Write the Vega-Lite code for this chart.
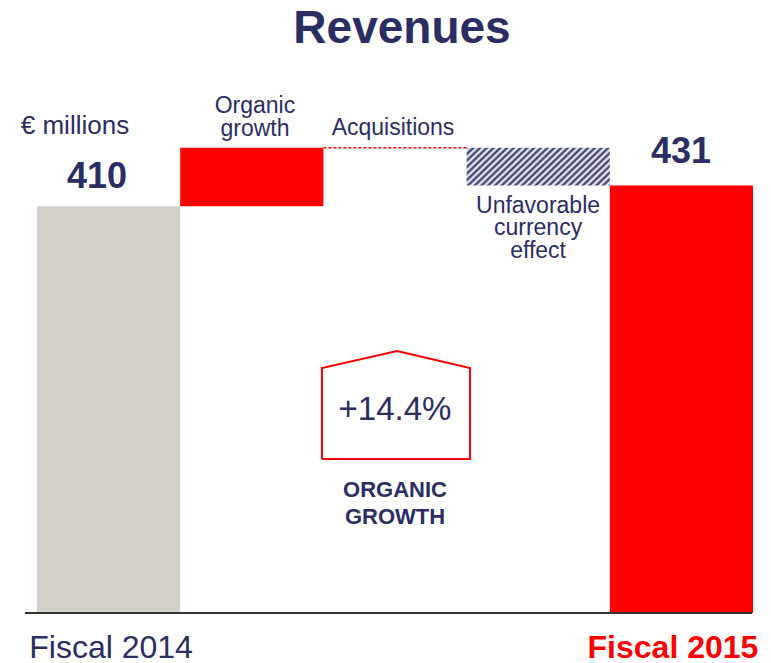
{
  "$schema": "https://vega.github.io/schema/vega-lite/v6.json",
  "width": 716,
  "height": 543,
  "autosize": {"type": "none"},
  "padding": {"left": 37, "top": 70, "right": 18, "bottom": 50},
  "background": "white",
  "config": {"view": {"stroke": null}, "font": "Liberation Sans"},
  "title": {"text": "Revenues", "fontSize": 46, "font": "Liberation Sans", "fontWeight": "bold", "color": "#2b2d63", "anchor": "middle", "offset": 17, "dx": 7, "frame": "group"},
  "datasets": {
    "bars": [
      {"item": "Fiscal 2014", "start": 0, "end": 1, "low": 0, "high": 410, "kind": "grey"},
      {"item": "Organic growth", "start": 1, "end": 2, "low": 410, "high": 469, "kind": "red"},
      {"item": "Fiscal 2015", "start": 4, "end": 5, "low": 0, "high": 431, "kind": "red"}
    ],
    "currency": [
      {"item": "Unfavorable currency effect", "start": 3, "end": 4, "low": 431, "high": 469}
    ],
    "acq": [{"item": "Acquisitions", "start": 2, "end": 3, "value": 469}],
    "base": [{"start": -0.084, "end": 4.993, "value": 0}],
    "house": [
      {"ord": 1, "px": 1.99, "py": 155.2},
      {"ord": 2, "px": 1.99, "py": 247.0},
      {"ord": 3, "px": 2.514, "py": 264.1},
      {"ord": 4, "px": 3.024, "py": 247.0},
      {"ord": 5, "px": 3.024, "py": 155.2},
      {"ord": 6, "px": 1.99, "py": 155.2}
    ],
    "millions": [{"label": "€ millions", "lx": 0.265, "ly": 491}],
    "smallLabels": [
      {"label": "Organic\ngrowth", "lx": 1.522, "ly": 511},
      {"label": "Acquisitions", "lx": 2.486, "ly": 489},
      {"label": "Unfavorable\ncurrency\neffect", "lx": 3.499, "ly": 410.3}
    ],
    "valueLabels": [
      {"label": "410", "lx": 0.419, "ly": 439.5},
      {"label": "431", "lx": 4.497, "ly": 464.7}
    ],
    "pct": [{"label": "+14.4%", "lx": 2.5, "ly": 204.6}],
    "og": [{"label": "ORGANIC\nGROWTH", "lx": 2.5, "ly": 124}],
    "fy14": [{"label": "Fiscal 2014", "lx": 0.517, "ly": -35.3}],
    "fy15": [{"label": "Fiscal 2015", "lx": 4.441, "ly": -35.3}]
  },
  "layer": [
    {
      "data": {"name": "bars"},
      "mark": {"type": "bar"},
      "encoding": {
        "x": {"field": "start", "type": "quantitative", "scale": {"domain": [0, 5], "nice": false, "zero": false}, "axis": null},
        "x2": {"field": "end"},
        "y": {"field": "low", "type": "quantitative", "scale": {"domain": [0, 547.4], "nice": false}, "axis": null},
        "y2": {"field": "high"},
        "color": {"field": "kind", "type": "nominal", "scale": {"domain": ["grey", "red"], "range": ["#d3d0ca", "#ff0000"]}, "legend": null}
      }
    },
    {
      "data": {"name": "currency"},
      "mark": {
        "type": "bar",
        "fill": {
          "gradient": "linear", "x1": 0, "y1": 0, "x2": 1.185, "y2": 0.3235,
          "stops": [
            {"offset": 0, "color": "#2b2d63"}, {"offset": 0.0185, "color": "#ffffff"},
            {"offset": 0.037, "color": "#2b2d63"}, {"offset": 0.0556, "color": "#ffffff"},
            {"offset": 0.0741, "color": "#2b2d63"}, {"offset": 0.0926, "color": "#ffffff"},
            {"offset": 0.1111, "color": "#2b2d63"}, {"offset": 0.1296, "color": "#ffffff"},
            {"offset": 0.1481, "color": "#2b2d63"}, {"offset": 0.1667, "color": "#ffffff"},
            {"offset": 0.1852, "color": "#2b2d63"}, {"offset": 0.2037, "color": "#ffffff"},
            {"offset": 0.2222, "color": "#2b2d63"}, {"offset": 0.2407, "color": "#ffffff"},
            {"offset": 0.2593, "color": "#2b2d63"}, {"offset": 0.2778, "color": "#ffffff"},
            {"offset": 0.2963, "color": "#2b2d63"}, {"offset": 0.3148, "color": "#ffffff"},
            {"offset": 0.3333, "color": "#2b2d63"}, {"offset": 0.3519, "color": "#ffffff"},
            {"offset": 0.3704, "color": "#2b2d63"}, {"offset": 0.3889, "color": "#ffffff"},
            {"offset": 0.4074, "color": "#2b2d63"}, {"offset": 0.4259, "color": "#ffffff"},
            {"offset": 0.4444, "color": "#2b2d63"}, {"offset": 0.463, "color": "#ffffff"},
            {"offset": 0.4815, "color": "#2b2d63"}, {"offset": 0.5, "color": "#ffffff"},
            {"offset": 0.5185, "color": "#2b2d63"}, {"offset": 0.537, "color": "#ffffff"},
            {"offset": 0.5556, "color": "#2b2d63"}, {"offset": 0.5741, "color": "#ffffff"},
            {"offset": 0.5926, "color": "#2b2d63"}, {"offset": 0.6111, "color": "#ffffff"},
            {"offset": 0.6296, "color": "#2b2d63"}, {"offset": 0.6481, "color": "#ffffff"},
            {"offset": 0.6667, "color": "#2b2d63"}, {"offset": 0.6852, "color": "#ffffff"},
            {"offset": 0.7037, "color": "#2b2d63"}, {"offset": 0.7222, "color": "#ffffff"},
            {"offset": 0.7407, "color": "#2b2d63"}, {"offset": 0.7593, "color": "#ffffff"},
            {"offset": 0.7778, "color": "#2b2d63"}, {"offset": 0.7963, "color": "#ffffff"},
            {"offset": 0.8148, "color": "#2b2d63"}, {"offset": 0.8333, "color": "#ffffff"},
            {"offset": 0.8519, "color": "#2b2d63"}, {"offset": 0.8704, "color": "#ffffff"},
            {"offset": 0.8889, "color": "#2b2d63"}, {"offset": 0.9074, "color": "#ffffff"},
            {"offset": 0.9259, "color": "#2b2d63"}, {"offset": 0.9444, "color": "#ffffff"},
            {"offset": 0.963, "color": "#2b2d63"}, {"offset": 0.9815, "color": "#ffffff"},
            {"offset": 1, "color": "#2b2d63"}
          ]
        }
      },
      "encoding": {
        "x": {"field": "start", "type": "quantitative"},
        "x2": {"field": "end"},
        "y": {"field": "low", "type": "quantitative"},
        "y2": {"field": "high"}
      }
    },
    {
      "data": {"name": "acq"},
      "mark": {"type": "rule", "color": "#ff0000", "strokeWidth": 1.5, "strokeDash": [3, 2]},
      "encoding": {
        "x": {"field": "start", "type": "quantitative"},
        "x2": {"field": "end"},
        "y": {"field": "value", "type": "quantitative"}
      }
    },
    {
      "data": {"name": "base"},
      "mark": {"type": "rule", "color": "#333333", "strokeWidth": 2},
      "encoding": {
        "x": {"field": "start", "type": "quantitative"},
        "x2": {"field": "end"},
        "y": {"field": "value", "type": "quantitative"}
      }
    },
    {
      "data": {"name": "house"},
      "mark": {"type": "line", "color": "#ff0000", "strokeWidth": 2, "strokeJoin": "miter"},
      "encoding": {
        "x": {"field": "px", "type": "quantitative"},
        "y": {"field": "py", "type": "quantitative"},
        "order": {"field": "ord", "type": "quantitative"}
      }
    },
    {
      "data": {"name": "millions"},
      "mark": {"type": "text", "fontSize": 26, "color": "#2b2d63", "align": "center", "baseline": "middle"},
      "encoding": {
        "x": {"field": "lx", "type": "quantitative"},
        "y": {"field": "ly", "type": "quantitative"},
        "text": {"field": "label"}
      }
    },
    {
      "data": {"name": "smallLabels"},
      "mark": {"type": "text", "fontSize": 23, "color": "#2b2d63", "lineBreak": "\n", "lineHeight": 22.5, "align": "center", "baseline": "middle"},
      "encoding": {
        "x": {"field": "lx", "type": "quantitative"},
        "y": {"field": "ly", "type": "quantitative"},
        "text": {"field": "label"}
      }
    },
    {
      "data": {"name": "valueLabels"},
      "mark": {"type": "text", "fontSize": 36, "fontWeight": "bold", "color": "#2b2d63", "align": "center", "baseline": "middle"},
      "encoding": {
        "x": {"field": "lx", "type": "quantitative"},
        "y": {"field": "ly", "type": "quantitative"},
        "text": {"field": "label"}
      }
    },
    {
      "data": {"name": "pct"},
      "mark": {"type": "text", "fontSize": 33, "color": "#2b2d63", "align": "center", "baseline": "middle"},
      "encoding": {
        "x": {"field": "lx", "type": "quantitative"},
        "y": {"field": "ly", "type": "quantitative"},
        "text": {"field": "label"}
      }
    },
    {
      "data": {"name": "og"},
      "mark": {"type": "text", "fontSize": 22, "fontWeight": "bold", "color": "#2b2d63", "lineBreak": "\n", "lineHeight": 27, "align": "center", "baseline": "middle"},
      "encoding": {
        "x": {"field": "lx", "type": "quantitative"},
        "y": {"field": "ly", "type": "quantitative"},
        "text": {"field": "label"}
      }
    },
    {
      "data": {"name": "fy14"},
      "mark": {"type": "text", "fontSize": 32, "color": "#2b2d63", "align": "center", "baseline": "middle"},
      "encoding": {
        "x": {"field": "lx", "type": "quantitative"},
        "y": {"field": "ly", "type": "quantitative"},
        "text": {"field": "label"}
      }
    },
    {
      "data": {"name": "fy15"},
      "mark": {"type": "text", "fontSize": 32, "fontWeight": "bold", "color": "#ff0000", "align": "center", "baseline": "middle"},
      "encoding": {
        "x": {"field": "lx", "type": "quantitative"},
        "y": {"field": "ly", "type": "quantitative"},
        "text": {"field": "label"}
      }
    }
  ]
}
